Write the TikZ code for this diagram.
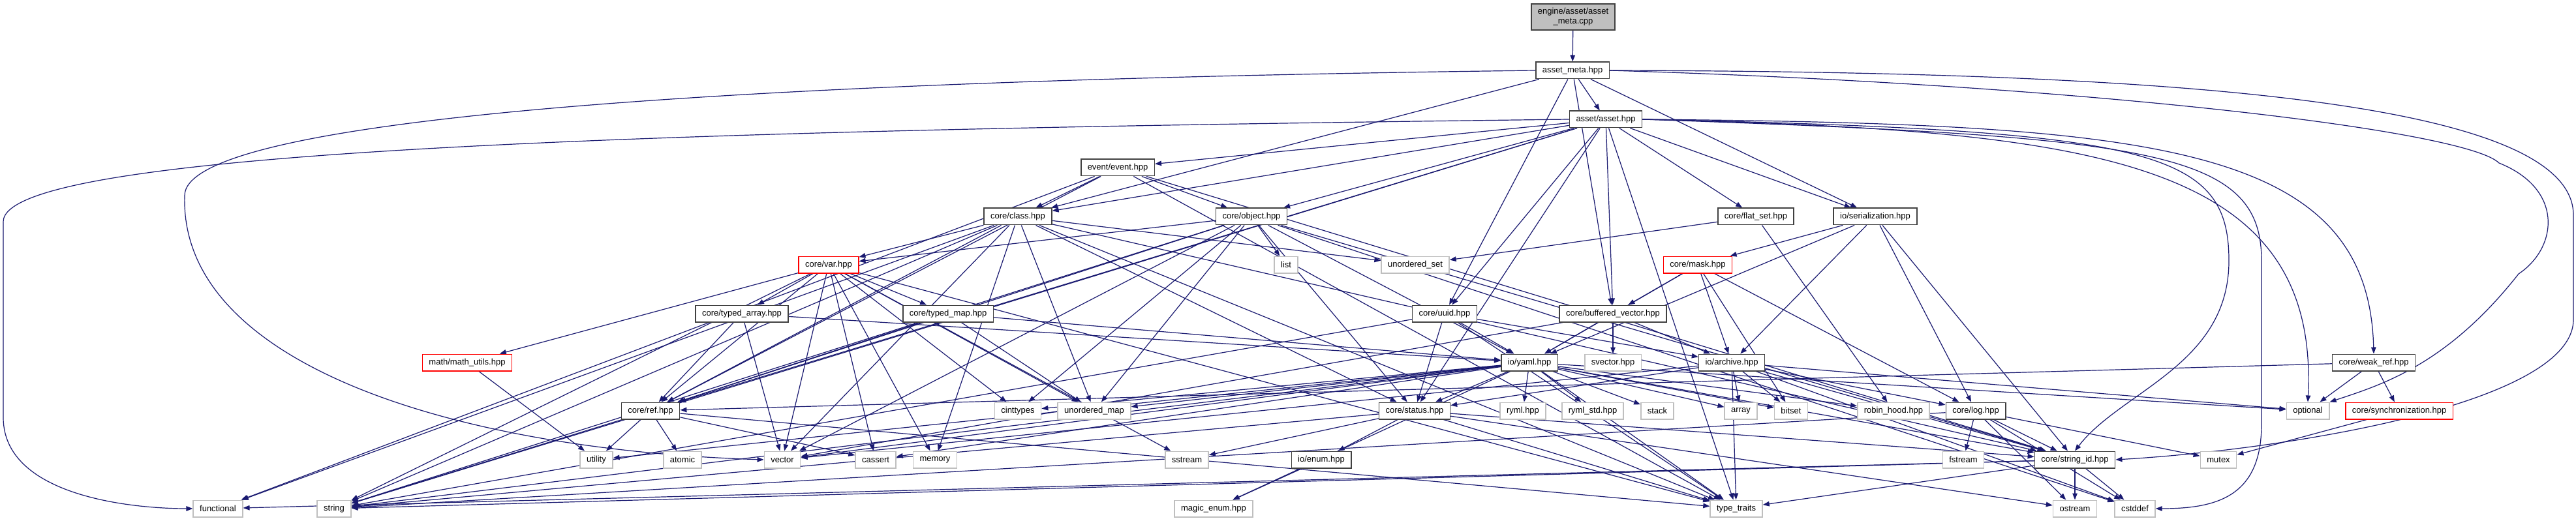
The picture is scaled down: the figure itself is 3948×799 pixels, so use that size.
\documentclass[tikz,border=0pt]{standalone}
\usepackage{fontspec}
\setmainfont{Liberation Sans}
\usetikzlibrary{arrows.meta,backgrounds}
\definecolor{edgeblue}{HTML}{191970}
\definecolor{boxline}{HTML}{404040}
\definecolor{sysline}{HTML}{BFBFBF}
\definecolor{rootfill}{HTML}{BFBFBF}
\definecolor{truncline}{HTML}{FF0000}

\begin{document}
\begin{tikzpicture}[
  x=1pt, y=-1pt,
  file/.style={draw=boxline, fill=white, line width=1.5pt, minimum height=25.5pt, inner xsep=10pt, inner ysep=0pt, font=\fontsize{13}{15}\selectfont},
  sysfile/.style={file, draw=sysline},
  trunc/.style={file, draw=truncline},
  rootfile/.style={file, fill=rootfill, align=center, minimum height=40pt},
  inc/.style={draw=edgeblue, line width=1.2pt, -{Triangle[length=10pt,width=7.5pt]}}
]
  \useasboundingbox (0,0) rectangle (3948,799);

  \node[rootfile] (cpp) at (2411,26) {engine/asset/asset\\\_meta.cpp};
  \node[file] (meta) at (2410,108) {asset\_meta.hpp};
  \node[file] (asset) at (2461,183) {asset/asset.hpp};
  \node[file] (event) at (1713,257) {event/event.hpp};
  \node[file] (class) at (1560,332) {core/class.hpp};
  \node[file] (object) at (1918,332) {core/object.hpp};
  \node[file] (flatset) at (2691,332) {core/flat\_set.hpp};
  \node[file] (serial) at (2874,332) {io/serialization.hpp};
  \node[trunc] (var) at (1270,406) {core/var.hpp};
  \node[sysfile] (list) at (1971,406) {list};
  \node[sysfile] (uset) at (2169,406) {unordered\_set};
  \node[trunc] (mask) at (2602,406) {core/mask.hpp};
  \node[file] (tarray) at (1137,481) {core/typed\_array.hpp};
  \node[file] (tmap) at (1453,481) {core/typed\_map.hpp};
  \node[file] (uuid) at (2214,481) {core/uuid.hpp};
  \node[file] (bvec) at (2472,481) {core/buffered\_vector.hpp};
  \node[trunc] (mathu) at (716,556) {math/math\_utils.hpp};
  \node[file] (yaml) at (2344,556) {io/yaml.hpp};
  \node[sysfile] (svec) at (2472,556) {svector.hpp};
  \node[file] (archive) at (2654,556) {io/archive.hpp};
  \node[file] (wref) at (3638,556) {core/weak\_ref.hpp};
  \node[file] (ref) at (997,630) {core/ref.hpp};
  \node[sysfile] (cint) at (1560,630) {cinttypes};
  \node[sysfile] (umap) at (1677,630) {unordered\_map};
  \node[file] (status) at (2168,630) {core/status.hpp};
  \node[sysfile] (ryml) at (2334,630) {ryml.hpp};
  \node[sysfile] (rymlstd) at (2441,630) {ryml\_std.hpp};
  \node[sysfile] (stack) at (2540,630) {stack};
  \node[sysfile] (array) at (2668,630) {array};
  \node[sysfile] (bitset) at (2745,630) {bitset};
  \node[sysfile] (robin) at (2902,630) {robin\_hood.hpp};
  \node[file] (log) at (3028,630) {core/log.hpp};
  \node[sysfile] (optional) at (3537,630) {optional};
  \node[trunc] (sync) at (3677,630) {core/synchronization.hpp};
  \node[sysfile] (utility) at (914,705) {utility};
  \node[sysfile] (atomic) at (1046,705) {atomic};
  \node[sysfile] (vector) at (1199,705) {vector};
  \node[sysfile] (cassert) at (1342,705) {cassert};
  \node[sysfile] (memory) at (1433,705) {memory};
  \node[sysfile] (sstream) at (1819,705) {sstream};
  \node[file] (ioenum) at (2025,705) {io/enum.hpp};
  \node[sysfile] (fstream) at (3009,705) {fstream};
  \node[file] (strid) at (3180,705) {core/string\_id.hpp};
  \node[sysfile] (mutex) at (3400,705) {mutex};
  \node[sysfile] (functional) at (334,780) {functional};
  \node[sysfile] (string) at (512,780) {string};
  \node[sysfile] (magic) at (1860,780) {magic\_enum.hpp};
  \node[sysfile] (ttraits) at (2661,780) {type\_traits};
  \node[sysfile] (ostream) at (3180,780) {ostream};
  \node[sysfile] (cstddef) at (3272,780) {cstddef};

  \begin{scope}[on background layer]
    \fill[white] (0,0) rectangle (3948,799);
    \draw[inc] (cpp) -- (meta);

    \draw[inc] (meta) -- (asset); \draw[inc] (meta) -- (class); \draw[inc] (meta) -- (uuid);
    \draw[inc] (meta) -- (bvec); \draw[inc] (meta) -- (serial);
    \draw[inc] (meta.west) .. controls (1000,125) and (283,190) .. (283,300) .. controls (275,560) and (700,690) .. (vector.west);
    \draw[inc] (meta.east) .. controls (3300,110) and (3944,150) .. (3944,330) -- (3944,490) .. controls (3944,620) and (3500,690) .. (strid.east);
    \draw[inc] (meta.east) .. controls (3200,130) and (3780,200) .. (3830,250) .. controls (3930,290) and (3920,380) .. (3860,420) .. controls (3750,560) and (3650,590) .. (optional.north east);

    \draw[inc] (asset) -- (event); \draw[inc] (asset) -- (class); \draw[inc] (asset) -- (object);
    \draw[inc] (asset) -- (flatset); \draw[inc] (asset) -- (serial); \draw[inc] (asset) -- (uuid);
    \draw[inc] (asset) -- (bvec); \draw[inc] (asset) -- (status); \draw[inc] (asset) -- (ref);
    \draw[inc] (asset) -- (string); \draw[inc] (asset) -- (ttraits);
    \draw[inc] (asset.west) .. controls (1000,200) and (5,230) .. (5,340) -- (5,640) .. controls (5,760) and (200,780) .. (functional.west);
    \draw[inc] (asset.east) .. controls (3300,190) and (3630,220) .. (wref.north);
    \draw[inc] (asset.east) .. controls (3200,200) and (3555,240) .. (optional.north);
    \draw[inc] (asset.east) .. controls (3300,200) and (3416,230) .. (3416,400) .. controls (3416,560) and (3250,600) .. (strid.north);
    \draw[inc] (asset.east) .. controls (3300,210) and (3466,230) .. (3466,400) -- (3466,650) .. controls (3466,760) and (3400,780) .. (cstddef.east);

    \draw[inc] (event) -- (class); \draw[inc] (event) -- (object); \draw[inc] (event) -- (ref);
    \draw[inc] (event) -- (functional); \draw[inc] (event) -- (strid); \draw[inc] (event) -- (ttraits);

    \draw[inc] (class) -- (var); \draw[inc] (class) -- (uset); \draw[inc] (class) -- (ref);
    \draw[inc] (class) -- (umap); \draw[inc] (class) -- (memory); \draw[inc] (class) -- (status);
    \draw[inc] (class) -- (strid); \draw[inc] (class) -- (string); \draw[inc] (class) -- (vector);
    \draw[inc] (class) -- (functional); \draw[inc] (class) -- (ttraits);

    \draw[inc] (object) -- (var); \draw[inc] (object) -- (list); \draw[inc] (object) -- (ref);
    \draw[inc] (object) -- (umap); \draw[inc] (object) -- (cint); \draw[inc] (object) -- (status);
    \draw[inc] (object) -- (yaml); \draw[inc] (object) -- (strid); \draw[inc] (object) -- (string);
    \draw[inc] (object) -- (vector); \draw[inc] (object) -- (cstddef);

    \draw[inc] (flatset) -- (uset); \draw[inc] (flatset) -- (robin);

    \draw[inc] (serial) -- (mask); \draw[inc] (serial) -- (archive); \draw[inc] (serial) -- (log);
    \draw[inc] (serial) -- (strid); \draw[inc] (serial) -- (yaml);

    \draw[inc] (var) -- (tarray); \draw[inc] (var) -- (tmap); \draw[inc] (var) -- (mathu);
    \draw[inc] (var) -- (ref); \draw[inc] (var) -- (cint); \draw[inc] (var) -- (umap);
    \draw[inc] (var) -- (vector); \draw[inc] (var) -- (string); \draw[inc] (var) -- (memory);
    \draw[inc] (var) -- (cassert); \draw[inc] (var) -- (sstream); \draw[inc] (var) -- (ttraits);

    \draw[inc] (mask) -- (bvec); \draw[inc] (mask) -- (yaml); \draw[inc] (mask) -- (archive);
    \draw[inc] (mask) -- (bitset); \draw[inc] (mask) -- (log);

    \draw[inc] (tarray) -- (ref); \draw[inc] (tarray) -- (vector); \draw[inc] (tarray) -- (yaml);
    \draw[inc] (tmap) -- (ref); \draw[inc] (tmap) -- (umap); \draw[inc] (tmap) -- (yaml);

    \draw[inc] (uuid) -- (yaml); \draw[inc] (uuid) -- (archive); \draw[inc] (uuid) -- (status);
    \draw[inc] (uuid) -- (string); \draw[inc] (uuid) -- (ttraits);

    \draw[inc] (bvec) -- (svec); \draw[inc] (bvec) -- (yaml); \draw[inc] (bvec) -- (archive);
    \draw[inc] (bvec) -- (vector);

    \draw[inc] (mathu) -- (utility);

    \draw[inc] (yaml) -- (cint); \draw[inc] (yaml) -- (umap); \draw[inc] (yaml) -- (status);
    \draw[inc] (yaml) -- (ryml); \draw[inc] (yaml) -- (rymlstd); \draw[inc] (yaml) -- (stack);
    \draw[inc] (yaml) -- (array); \draw[inc] (yaml) -- (bitset); \draw[inc] (yaml) -- (robin);
    \draw[inc] (yaml) -- (optional); \draw[inc] (yaml) -- (strid); \draw[inc] (yaml) -- (string);
    \draw[inc] (yaml) -- (vector); \draw[inc] (yaml) -- (cassert); \draw[inc] (yaml) -- (utility);
    \draw[inc] (yaml) -- (magic); \draw[inc] (yaml) -- (ttraits);

    \draw[inc] (archive) -- (status); \draw[inc] (archive) -- (array); \draw[inc] (archive) -- (bitset);
    \draw[inc] (archive) -- (log); \draw[inc] (archive) -- (strid); \draw[inc] (archive) -- (optional);
    \draw[inc] (archive) -- (vector); \draw[inc] (archive) -- (ttraits); \draw[inc] (archive) -- (cstddef);

    \draw[inc] (wref) -- (optional); \draw[inc] (wref) -- (sync); \draw[inc] (wref) -- (ref);

    \draw[inc] (ref) -- (utility); \draw[inc] (ref) -- (atomic); \draw[inc] (ref) -- (cassert);
    \draw[inc] (ref) -- (string); \draw[inc] (ref) -- (ttraits);

    \draw[inc] (status) -- (ioenum); \draw[inc] (status) -- (string); \draw[inc] (status) -- (strid);
    \draw[inc] (status) -- (ttraits); \draw[inc] (status) -- (ostream); \draw[inc] (status) -- (sstream);

    \draw[inc] (log) -- (fstream); \draw[inc] (log) -- (strid); \draw[inc] (log) -- (mutex);
    \draw[inc] (log) -- (string); \draw[inc] (log) -- (ostream); \draw[inc] (log) -- (cstddef);

    \draw[inc] (strid) -- (string); \draw[inc] (strid) -- (ostream); \draw[inc] (strid) -- (cstddef);
    \draw[inc] (strid) -- (ttraits); \draw[inc] (strid) -- (functional);

    \draw[inc] (sync) -- (mutex);
    \draw[inc] (ioenum) -- (magic);
  \end{scope}
\end{tikzpicture}
\end{document}
